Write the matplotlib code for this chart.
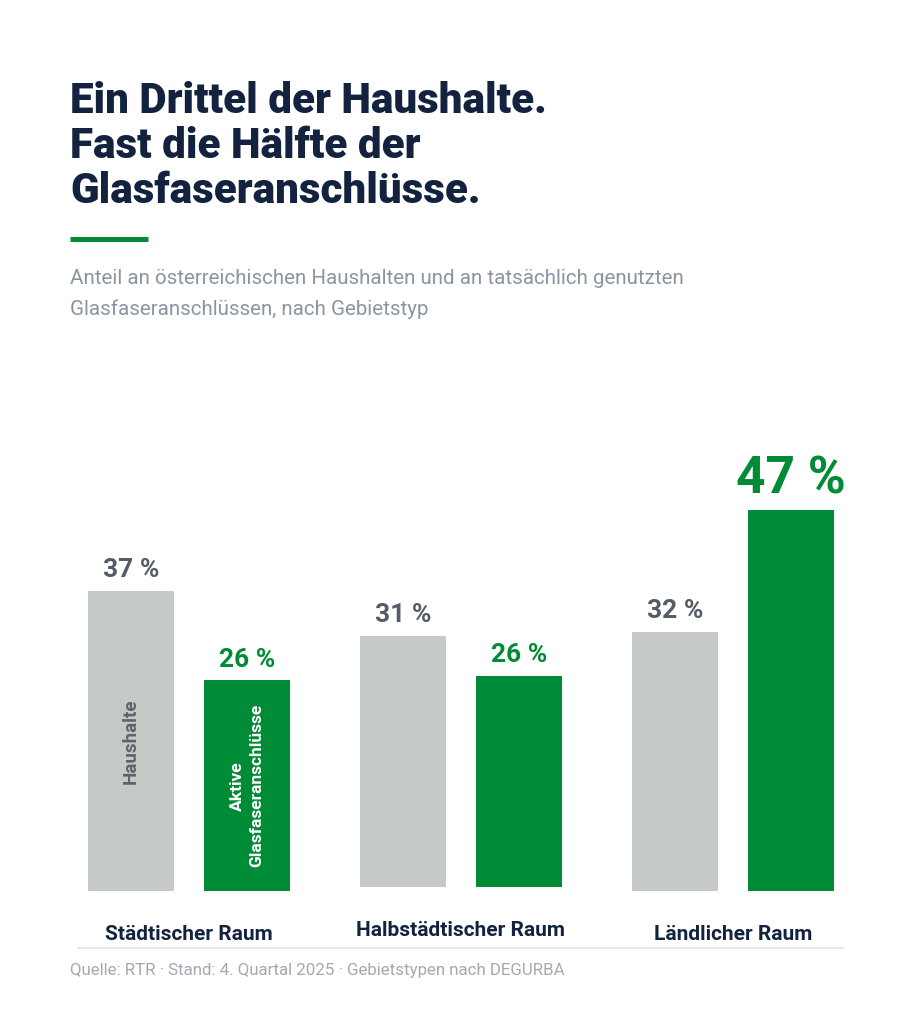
import numpy as np
from matplotlib import pyplot as plt

# Daten
gebiete = ['Städtischer Raum', 'Halbstädtischer Raum', 'Ländlicher Raum']
haushalte = [37, 31, 32]
glasfaser = [26, 26, 47]

# Farben
NAVY = '#13233f'
GRUEN = '#008c36'
GRAU_BALKEN = '#c5cac6'
GRAU_WERT = '#535c67'

plt.rcParams['font.family'] = ['Roboto', 'DejaVu Sans']

W, H = 922, 1024
fig = plt.figure(figsize=(W/100, H/100), dpi=100)
fig.patch.set_facecolor('white')

def fy(y):
    # Pixel von oben -> Figurkoordinate
    return 1 - y/H

# Titel
titel = ['Ein Drittel der Haushalte.', 'Fast die Hälfte der', 'Glasfaseranschlüsse.']
for i, zeile in enumerate(titel):
    fig.text(70/W, fy(113 + 45*i), zeile, fontsize=30.3, fontweight='heavy',
             color=NAVY, va='baseline', ha='left')

# Gruene Linie
fig.add_artist(plt.Line2D([70/W, 148/W], [fy(239), fy(239)], color=GRUEN,
                          linewidth=3.6, solid_capstyle='butt'))

# Untertitel
unter = ['Anteil an österreichischen Haushalten und an tatsächlich genutzten',
         'Glasfaseranschlüssen, nach Gebietstyp']
for i, zeile in enumerate(unter):
    fig.text(70/W, fy(284 + 31*i), zeile, fontsize=14.8, color='#8b95a1',
             va='baseline', ha='left')

# Achse fuer die Balken
px_pro_gruppe = 272.0
px_pro_prozent = 8.1
links, rechts = 70, 850
oben, unten = 440, 891
ax = fig.add_axes([links/W, fy(unten), (rechts-links)/W, (unten-oben)/H])
ax.set_xlim((links-189)/px_pro_gruppe, (rechts-189)/px_pro_gruppe)
ax.set_ylim(0, (unten-oben)/px_pro_prozent)
ax.axis('off')

x = np.arange(len(gebiete))
breite = 86/px_pro_gruppe
abstand = 58/px_pro_gruppe
versatz = np.array([0, 0.5, 0])  # mittlere Gruppe sitzt etwas hoeher

ax.bar(x - abstand, haushalte, breite, bottom=versatz, color=GRAU_BALKEN)
ax.bar(x + abstand, glasfaser, breite, bottom=versatz, color=GRUEN)

for i in range(len(gebiete)):
    ax.annotate(f'{haushalte[i]} %', (x[i] - abstand, haushalte[i] + versatz[i]),
                xytext=(0, 10), textcoords='offset points', ha='center',
                va='baseline', fontsize=19, fontweight='bold', color=GRAU_WERT)
    gross = glasfaser[i] == max(glasfaser)
    ax.annotate(f'{glasfaser[i]} %', (x[i] + abstand, glasfaser[i] + versatz[i]),
                xytext=(0, 12 if gross else 10), textcoords='offset points',
                ha='center', va='baseline', fontsize=37 if gross else 19,
                fontweight='bold', color=GRUEN)
    ax.annotate(gebiete[i], (x[i], versatz[i]), xytext=(0, -35),
                textcoords='offset points', ha='center', va='baseline',
                fontsize=15, fontweight='bold', color=NAVY,
                annotation_clip=False)

# Beschriftung in den ersten Balken
ax.text(x[0] - abstand, (haushalte[0] + versatz[0])/2, 'Haushalte', rotation=90,
        ha='center', va='center', fontsize=13.5, fontweight='bold', color='#5d636b')
ax.text(x[0] + abstand, (glasfaser[0] + versatz[0])/2, 'Aktive\nGlasfaseranschlüsse',
        rotation=90, ha='center', va='center', multialignment='center',
        fontsize=12.5, fontweight='bold', color='white', linespacing=1.3)

# Trennlinie und Quelle
fig.add_artist(plt.Line2D([78/W, 843/W], [fy(948), fy(948)], color='#e3e6e9',
                          linewidth=1.2))
fig.text(70/W, fy(975), 'Quelle: RTR · Stand: 4. Quartal 2025 · Gebietstypen nach DEGURBA',
         fontsize=12.2, color='#a3a9b0', va='baseline', ha='left')

fig.savefig('out.png', dpi=100, facecolor='white')
